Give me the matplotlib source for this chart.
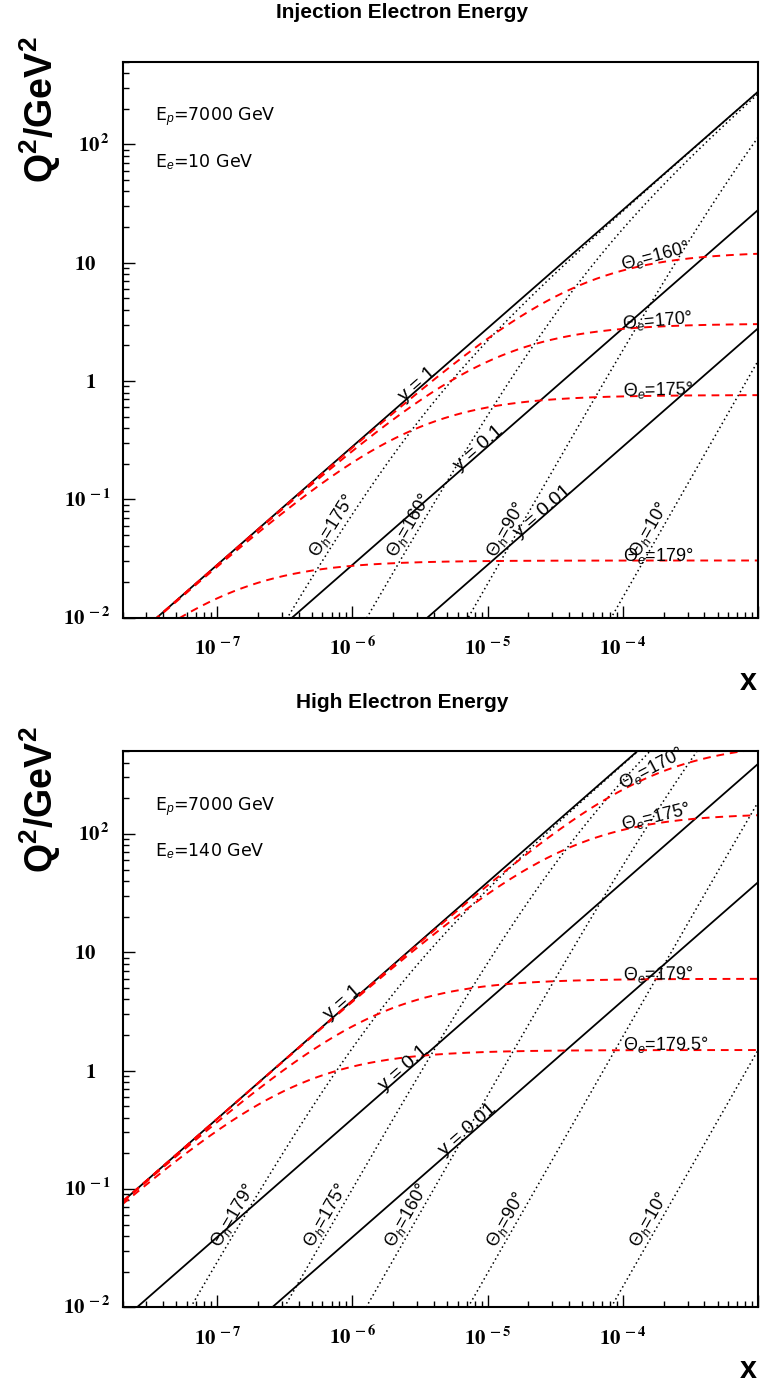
import numpy as np
import matplotlib
matplotlib.use("Agg")
import matplotlib.pyplot as plt
import matplotlib.transforms as mtransforms
from matplotlib.ticker import LogLocator, NullFormatter

plt.rcParams['font.family'] = ['Liberation Sans', 'DejaVu Sans']
plt.rcParams['mathtext.fontset'] = 'custom'
plt.rcParams['mathtext.rm'] = 'Liberation Sans'
plt.rcParams['mathtext.it'] = 'Liberation Sans:italic'
plt.rcParams['mathtext.bf'] = 'Liberation Sans:bold'

# beam energies (GeV)
E_P = 7000.0
E_E_INJ = 10.0
E_E_HIGH = 140.0

# axis ranges
X_MIN, X_MAX = 2e-8, 1e-3
Q2_MIN, Q2_MAX = 1e-2, 500.0

# lines of constant y, with x where the label starts
y_values = [1, 0.1, 0.01]
y_names = ['y = 1', 'y = 0.1', 'y = 0.01']
y_label_x_inj = [2.4e-6, 6.2e-6, 1.7e-5]
y_label_x_high = [6.8e-7, 1.73e-6, 4.8e-6]

# electron / hadron scattering angles (deg)
theta_e_inj = [160, 170, 175, 179]
theta_e_high = [170, 175, 179, 179.5]
theta_h_inj = [175, 160, 90, 10]
theta_h_high = [179, 175, 160, 90, 10]
theta_e_label_x = 1e-4
theta_h_label_q2 = 0.03

x_ticks = [1e-7, 1e-6, 1e-5, 1e-4]
x_tick_labels = [r'$\mathbf{10^{\,-7}}$', r'$\mathbf{10^{\,-6}}$', r'$\mathbf{10^{\,-5}}$', r'$\mathbf{10^{\,-4}}$']
q2_ticks = [1e-2, 1e-1, 1, 10, 100]
q2_tick_labels = [r'$\mathbf{10^{\,-2}}$', r'$\mathbf{10^{\,-1}}$', r'$\mathbf{1}$', r'$\mathbf{10}$', r'$\mathbf{10^{\,2}}$']
q2_has_exp = [True, True, False, False, True]


def fmt_angle(a):
    return ('%g' % a)


def text_angle(ax, xa, f):
    x1, x2 = xa / 1.05, xa * 1.05
    p1 = ax.transData.transform((x1, f(x1)))
    p2 = ax.transData.transform((x2, f(x2)))
    return np.degrees(np.arctan2(p2[1] - p1[1], p2[0] - p1[0]))


def panel(ax, e_e, th_e, th_h, y_lab_x, title, title_y):
    s = 4 * E_P * e_e
    ax.set_xscale('log')
    ax.set_yscale('log')
    ax.set_xlim(X_MIN, X_MAX)
    ax.set_ylim(Q2_MIN, Q2_MAX)
    x = np.logspace(np.log10(X_MIN), np.log10(X_MAX), 1000)

    # constant y
    for yv, name, xl in zip(y_values, y_names, y_lab_x):
        f = lambda xx, yv=yv: s * xx * yv
        ax.plot(x, f(x), color='black', lw=1.3)
        ang = text_angle(ax, xl, f)
        ax.text(xl, f(xl), name, rotation=ang, rotation_mode='anchor',
                ha='left', va='baseline', fontsize=14)

    # constant hadron angle
    for th in th_h:
        c = 4 * e_e ** 2 / np.tan(np.radians(th) / 2) ** 2
        f = lambda xx, c=c: (s * xx) ** 2 / (s * xx + c)
        ax.plot(x, f(x), color='black', lw=1.1, ls=(0, (1, 2)))
        q = theta_h_label_q2
        xl = (q + np.sqrt(q * q + 4 * q * c)) / 2 / s
        ang = text_angle(ax, xl, f)
        ax.text(xl, q, u'\u0398$_{h}$=' + fmt_angle(th) + u'\u00b0', rotation=ang,
                rotation_mode='anchor', ha='left', va='bottom', fontsize=13)

    # constant electron angle
    for th in th_e:
        a = 4 * e_e ** 2 / np.tan(np.radians(th) / 2) ** 2
        f = lambda xx, a=a: a * s * xx / (s * xx + a)
        ax.plot(x, f(x), color='#ff0000', lw=1.4, ls=(0, (4, 3)))
        xl = theta_e_label_x
        ang = text_angle(ax, xl, f)
        ax.text(xl, f(xl), u'\u0398$_{e}$=' + fmt_angle(th) + u'\u00b0', rotation=ang,
                rotation_mode='anchor', ha='left', va='baseline', fontsize=13)

    ax.xaxis.set_major_locator(LogLocator(base=10, numticks=20))
    ax.xaxis.set_minor_locator(LogLocator(base=10, subs=np.arange(2, 10), numticks=20))
    ax.yaxis.set_major_locator(LogLocator(base=10, numticks=20))
    ax.yaxis.set_minor_locator(LogLocator(base=10, subs=np.arange(2, 10), numticks=20))
    ax.xaxis.set_major_formatter(NullFormatter())
    ax.xaxis.set_minor_formatter(NullFormatter())
    ax.yaxis.set_major_formatter(NullFormatter())
    ax.yaxis.set_minor_formatter(NullFormatter())
    ax.tick_params(which='both', direction='in', top=False, right=False, width=1.0)
    ax.tick_params(which='major', length=8.5)
    ax.tick_params(which='minor', length=4.5)
    for sp in ax.spines.values():
        sp.set_linewidth(1.5)

    # tick labels, ROOT style
    xtr = mtransforms.blended_transform_factory(ax.transData, ax.transAxes)
    for xt, lab in zip(x_ticks, x_tick_labels):
        off = mtransforms.ScaledTranslation(0, -27 / 72, fig.dpi_scale_trans)
        ax.text(xt, 0, lab, transform=xtr + off, ha='center', va='baseline',
                fontsize=15, math_fontfamily='stix')
    ytr = mtransforms.blended_transform_factory(ax.transAxes, ax.transData)
    for qt, lab, ex in zip(q2_ticks, q2_tick_labels, q2_has_exp):
        dx = -9 / 72 if ex else -19 / 72
        off = mtransforms.ScaledTranslation(dx, -5 / 72, fig.dpi_scale_trans)
        ax.text(0, qt, lab, transform=ytr + off, ha='right', va='baseline',
                fontsize=15, math_fontfamily='stix')

    ax.text(0.051, 0.90, 'E$_{p}$=%d GeV' % E_P, transform=ax.transAxes,
            fontsize=12.5, family='DejaVu Sans', va='center')
    ax.text(0.051, 0.82, 'E$_{e}$=%d GeV' % e_e, transform=ax.transAxes,
            fontsize=12.5, family='DejaVu Sans', va='center')

    fig.text(0.528, title_y, title, ha='center', va='center', fontsize=15, fontweight='bold')


fig = plt.figure(figsize=(7.61, 13.86), dpi=100)
ax1 = fig.add_axes([0.1612, 0.5543, 0.8352, 0.4012])
ax2 = fig.add_axes([0.1612, 0.0568, 0.8352, 0.4012])

panel(ax1, E_E_INJ, theta_e_inj, theta_h_inj, y_label_x_inj, 'Injection Electron Energy', 0.9913)
panel(ax2, E_E_HIGH, theta_e_high, theta_h_high, y_label_x_high, 'High Electron Energy', 0.4928)

for yc in [0.9206, 0.4228]:
    fig.text(0.0526, yc, r'Q$^{\mathbf{2}}$/GeV$^{\mathbf{2}}$', rotation=90, ha='center', va='center',
             fontsize=27, fontweight='bold')
for yc in [0.508, 0.0115]:
    fig.text(0.983, yc, 'x', ha='center', va='center', fontsize=22, fontweight='bold')

fig.savefig('out.png', dpi=100)
